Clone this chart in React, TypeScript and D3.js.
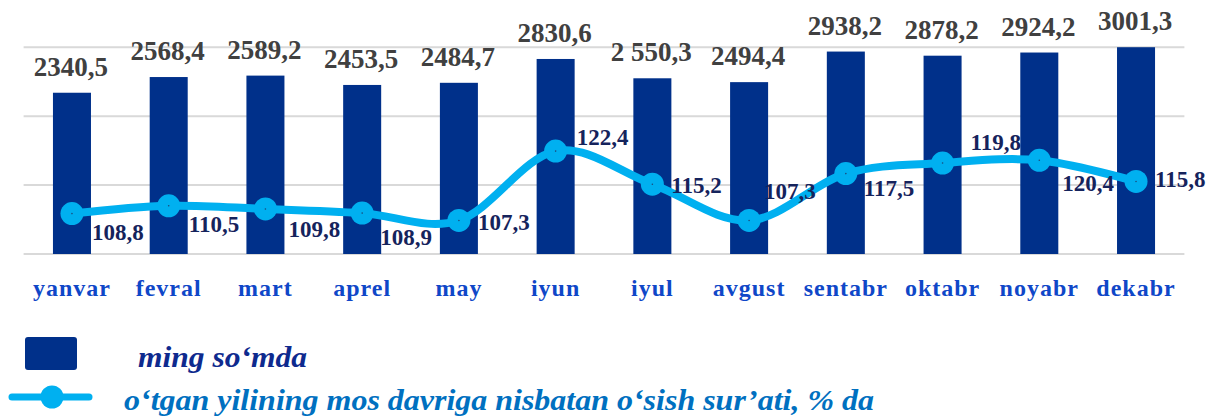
import React from "react";
import * as d3 from "d3";

const months = ["yanvar", "fevral", "mart", "aprel", "may", "iyun", "iyul", "avgust", "sentabr", "oktabr", "noyabr", "dekabr"];
const barValues = [2340.5, 2568.4, 2589.2, 2453.5, 2484.7, 2830.6, 2550.3, 2494.4, 2938.2, 2878.2, 2924.2, 3001.3];
const barLabels = ["2340,5", "2568,4", "2589,2", "2453,5", "2484,7", "2830,6", "2 550,3", "2494,4", "2938,2", "2878,2", "2924,2", "3001,3"];
const growthValues = [108.8, 110.5, 109.8, 108.9, 107.3, 122.4, 115.2, 107.3, 117.5, 119.8, 120.4, 115.8];
const growthLabels = ["108,8", "110,5", "109,8", "108,9", "107,3", "122,4", "115,2", "107,3", "117,5", "119,8", "120,4", "115,8"];
const barTicks = [0, 1000, 2000, 3000];

// label placement offsets (layout only): [dx, dy] relative to point
const growthLabelOffsets: [number, number][] = [
  [20, 26], [20, 26], [23, 28], [18, 32], [19, 10], [21, -6],
  [19, 9], [15, -21], [18, 22], [28, -13], [23, 31], [19, 6],
];

const legend1 = "ming so‘mda";
const legend2 = "o‘tgan yilining mos davriga nisbatan o‘sish sur’ati, % da";

const W = 1211;
const H = 418;
const BAR = "#00308A";
const LINE = "#00B0F0";
const serif = "Liberation Serif, Times New Roman, Times, serif";

export default function App() {
  const x = d3.scaleBand<string>().domain(months).range([23.6, 1184.4]).paddingInner(0.607).paddingOuter(0.3035);
  const y = d3.scaleLinear().domain([0, 3000]).range([254, 47.3]);
  const y2 = d3.scaleLinear().domain([100, 145]).range([254, 47.3]);
  const cx = (m: string) => (x(m) as number) + x.bandwidth() / 2;

  const pts: [number, number][] = months.map((m, i) => [cx(m), y2(growthValues[i])]);
  const linePath = d3.line().curve(d3.curveCardinal.tension(0))(pts) || "";
  const ts = { fontFamily: serif, fontWeight: 700 } as React.CSSProperties;

  return (
    <svg width={W} height={H} style={{ position: "absolute", left: 0, top: 0, background: "#fff" }}>
      <rect width={W} height={H} fill="#fff" />
      {barTicks.map((t) => (
        <line key={t} x1={23.6} x2={1184.4} y1={y(t)} y2={y(t)} stroke="#D9D9D9" strokeWidth={2} />
      ))}
      {months.map((m, i) => (
        <rect key={m} x={x(m)} y={y(barValues[i])} width={x.bandwidth()} height={y(0) - y(barValues[i])} fill={BAR} />
      ))}
      {months.map((m, i) => (
        <text key={"bl" + m} x={cx(m) - 1} y={y(barValues[i]) - 17} textAnchor="middle" style={{ ...ts, fontSize: 27 }}
          fill="#404040">{barLabels[i]}</text>
      ))}
      <path d={linePath} fill="none" stroke={LINE} strokeWidth={8} strokeLinecap="round" strokeLinejoin="round" />
      {pts.map((p, i) => (
        <g key={"pt" + i}>
          <circle cx={p[0]} cy={p[1]} r={11.5} fill={LINE} />
          <circle cx={p[0]} cy={p[1]} r={0.8} fill="#1a4a7a" />
        </g>
      ))}
      {pts.map((p, i) => (
        <text key={"gl" + i} x={p[0] + growthLabelOffsets[i][0]} y={p[1] + growthLabelOffsets[i][1]}
          style={{ ...ts, fontSize: 23 }} fill="#15235C">{growthLabels[i]}</text>
      ))}
      {months.map((m) => (
        <text key={"xl" + m} x={cx(m)} y={296} textAnchor="middle" style={{ ...ts, fontSize: 24, letterSpacing: 1 }}
          fill="#0F47C8">{m}</text>
      ))}
      <rect x={25} y={337} width={52} height={33} rx={3} fill={BAR} />
      <text x={138} y={367} style={{ ...ts, fontStyle: "italic", fontSize: 29 }}
        fill="#0E2A8E" textLength={169} lengthAdjust="spacingAndGlyphs">{legend1}</text>
      <line x1={12} x2={89} y1={397} y2={397} stroke={LINE} strokeWidth={7} strokeLinecap="round" />
      <circle cx={52} cy={397} r={11.5} fill={LINE} />
      <text x={124} y={410} style={{ ...ts, fontStyle: "italic", fontSize: 29 }}
        fill="#0070C0" textLength={750} lengthAdjust="spacingAndGlyphs">{legend2}</text>
    </svg>
  );
}
